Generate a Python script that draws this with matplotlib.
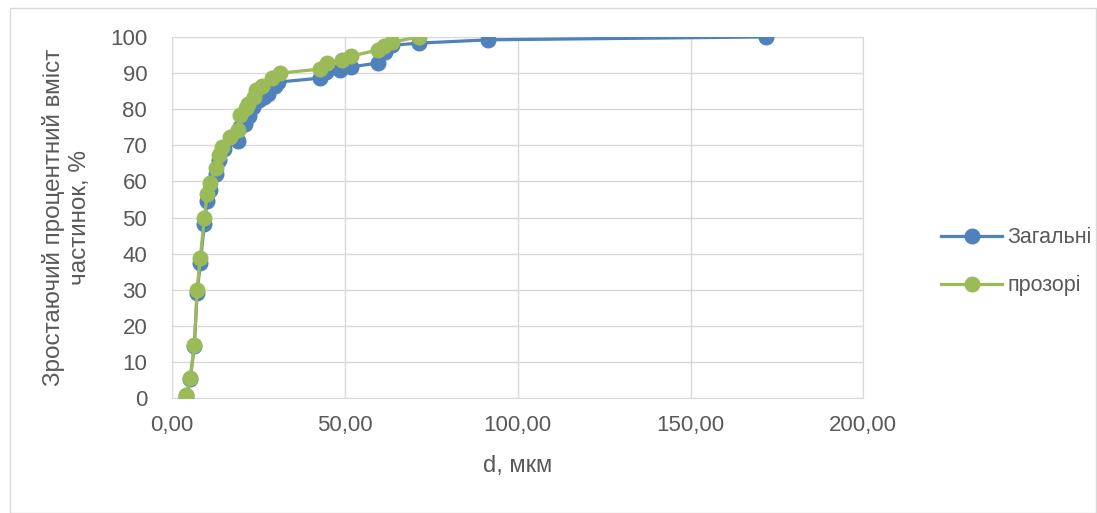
import matplotlib
matplotlib.use('Agg')
import matplotlib.pyplot as plt
from matplotlib.patches import Rectangle

plt.rcParams['font.family'] = ['Liberation Sans', 'DejaVu Sans']

# Загальні
d_all = [4.1, 5.2, 6.4, 7.2, 8.1, 9.3, 10.1, 11.0, 12.6, 13.6, 15.0, 19.1, 19.5, 21.0, 22.2,
         23.5, 25.0, 26.5, 27.8, 29.8, 30.7, 42.8, 44.6, 48.6, 51.8, 59.6, 61.6, 63.7,
         71.5, 91.5, 171.9]
p_all = [0.5, 5.3, 14.4, 29.1, 37.4, 48.2, 54.6, 57.6, 62.0, 66.0, 69.0, 71.2, 75.0, 76.0, 78.0,
         80.5, 82.5, 83.5, 84.2, 86.4, 87.5, 88.6, 90.3, 90.9, 91.7, 92.8, 95.8, 97.7,
         98.3, 99.2, 100.0]

# прозорі
d_clear = [4.1, 5.2, 6.4, 7.2, 8.1, 9.3, 10.1, 11.0, 12.6, 13.6, 14.5, 16.8, 19.0, 19.6, 21.4,
           22.0, 23.6, 24.2, 25.9, 28.9, 31.3, 42.8, 44.9, 49.2, 51.8, 59.6, 61.3, 63.7, 71.5]
p_clear = [0.8, 5.7, 14.6, 30.0, 38.8, 49.9, 56.5, 59.6, 63.7, 67.3, 69.5, 72.3, 74.2, 78.4, 80.3,
           81.5, 83.4, 85.3, 86.4, 88.6, 90.0, 91.1, 92.8, 93.6, 94.7, 96.4, 97.5, 98.6, 100.0]

fig = plt.figure(figsize=(10.97, 5.13), dpi=100)
fig.patches.append(Rectangle((0.009, 0.0), 0.99, 0.985, transform=fig.transFigure,
                             fill=False, edgecolor='#d9d9d9', linewidth=1))
ax = fig.add_axes([0.157, 0.224, 0.630, 0.704])

ax.plot(d_all, p_all, color='#4F81BD', linewidth=2.3, marker='o', markersize=10.5,
        label='Загальні', zorder=3)
ax.plot(d_clear, p_clear, color='#9BBB59', linewidth=2.3, marker='o', markersize=10.5,
        label='прозорі', zorder=4)

ax.set_xlim(0, 200)
ax.set_ylim(0, 100)
ax.set_xticks([0, 50, 100, 150, 200])
ax.set_xticklabels(['0,00', '50,00', '100,00', '150,00', '200,00'])
ax.set_yticks(range(0, 101, 10))
ax.grid(True, color='#d9d9d9', linewidth=1)
ax.set_axisbelow(True)
for s in ax.spines.values():
    s.set_color('#d9d9d9')
ax.tick_params(axis='y', length=0, labelsize=16, colors='#595959', pad=18)
ax.tick_params(axis='x', length=0, labelsize=16, colors='#595959', pad=12)

ax.set_xlabel('d, мкм', fontsize=17, color='#595959', labelpad=14)
ax.set_ylabel('Зростаючий процентний вміст\nчастинок, %', fontsize=17.5, color='#595959',
              labelpad=14, linespacing=1.2)

ax.legend(loc='center left', bbox_to_anchor=(1.085, 0.377), frameon=False, fontsize=15.5,
          labelcolor='#595959', handlelength=2.8, handletextpad=0.25, labelspacing=1.25)

fig.savefig('out.png', dpi=100)
